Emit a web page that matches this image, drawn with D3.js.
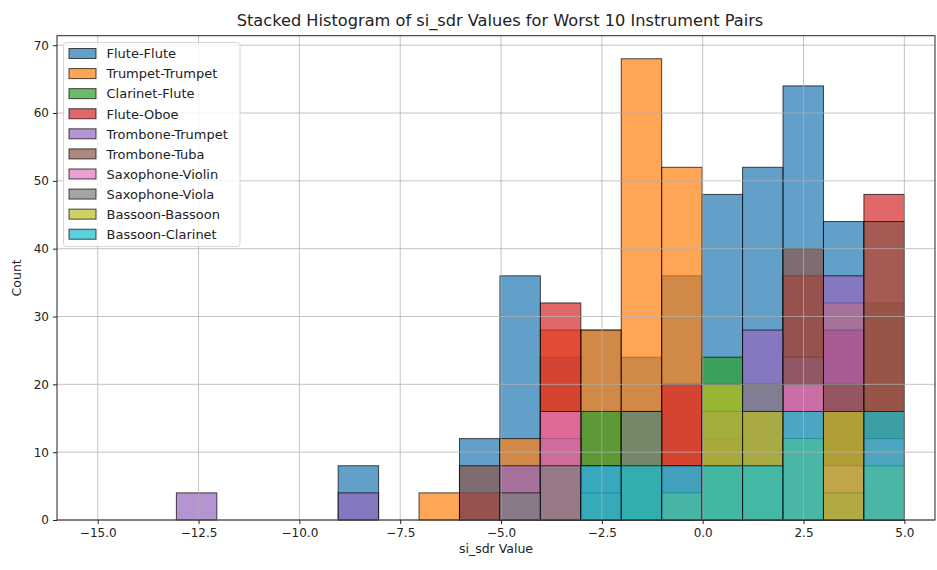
<!DOCTYPE html>
<html>
<head>
<meta charset="utf-8">
<script src="https://cdn.jsdelivr.net/npm/d3@7/dist/d3.min.js"></script>
<style>
  body { margin: 0; background: #fff; }
  text { font-family: "DejaVu Sans", sans-serif; fill: #222; }
</style>
</head>
<body>
<svg id="chart" width="937" height="570"></svg>
<script>
// Instrument pairs, in drawing order (later pairs are layered on top)
const pairs = [
  "Flute-Flute", "Trumpet-Trumpet", "Clarinet-Flute", "Flute-Oboe",
  "Trombone-Trumpet", "Trombone-Tuba", "Saxophone-Violin",
  "Saxophone-Viola", "Bassoon-Bassoon", "Bassoon-Clarinet"
];
const colors = ["#1f77b4", "#ff7f0e", "#2ca02c", "#d62728", "#9467bd",
                "#8c564b", "#e377c2", "#7f7f7f", "#bcbd22", "#17becf"];

// Shared bin range (18 equal-width bins)
const binLo = -13.05;
const binHi = 5.0;
const binCount = 18;

// Counts per bin for each pair
const fluteFlute      = [0,0,0,0,8,0,0,12,36,24,28,24,36,48,52,64,44,0];
const trumpetTrumpet  = [0,0,0,0,0,0,4,0,12,28,28,68,52,0,0,0,32,0];
const clarinetFlute   = [0,0,0,0,0,0,0,0,0,0,16,16,0,24,0,0,0,32];
const fluteOboe       = [0,0,0,0,0,0,0,4,0,32,0,0,20,0,0,36,28,48];
const tromboneTrumpet = [4,0,0,0,4,0,0,0,8,0,8,0,8,0,28,24,36,0];
const tromboneTuba    = [0,0,0,0,0,0,0,8,0,12,0,0,0,12,0,40,20,44];
const saxViolin       = [0,0,0,0,0,0,0,0,0,16,0,0,0,0,0,20,8,12];
const saxViola        = [0,0,0,0,0,0,0,0,4,8,4,16,0,16,20,0,4,0];
const bassoonBassoon  = [0,0,0,0,0,0,0,0,0,0,0,0,4,20,16,12,16,8];
const bassoonClarinet = [0,0,0,0,0,0,0,0,0,0,8,8,8,8,8,16,0,16];

const seriesCounts = [fluteFlute, trumpetTrumpet, clarinetFlute, fluteOboe,
  tromboneTrumpet, tromboneTuba, saxViolin, saxViola, bassoonBassoon, bassoonClarinet];

const xTicks = [-15, -12.5, -10, -7.5, -5, -2.5, 0, 2.5, 5];
const yTicks = [0, 10, 20, 30, 40, 50, 60, 70];

const svg = d3.select("#chart");
const plot = { left: 57, right: 935, top: 35.7, bottom: 520 };

const x = d3.scaleLinear().domain([-16.01, 5.76]).range([plot.left, plot.right]);
const y = d3.scaleLinear().domain([0, 71.4]).range([plot.bottom, plot.top]);

const binWidth = (binHi - binLo) / binCount;
const edges = d3.range(binCount + 1).map(i => binLo + i * binWidth);

// Layered bars
const barsG = svg.append("g");
seriesCounts.forEach((counts, si) => {
  const data = counts.map((c, i) => ({ c, x0: edges[i], x1: edges[i + 1] }))
                     .filter(d => d.c > 0);
  barsG.append("g")
    .selectAll("rect")
    .data(data)
    .join("rect")
    .attr("x", d => x(d.x0))
    .attr("width", d => x(d.x1) - x(d.x0))
    .attr("y", d => y(d.c))
    .attr("height", d => y(0) - y(d.c))
    .attr("fill", colors[si])
    .attr("fill-opacity", 0.7)
    .attr("stroke", "#000")
    .attr("stroke-opacity", 0.7)
    .attr("stroke-width", 1);
});

// Grid lines drawn over the bars
const gridG = svg.append("g").attr("stroke", "#b0b0b0").attr("stroke-opacity", 0.75).attr("stroke-width", 1);
gridG.selectAll("line.v").data(xTicks).join("line")
  .attr("x1", d => x(d)).attr("x2", d => x(d))
  .attr("y1", plot.top).attr("y2", plot.bottom);
gridG.selectAll("line.h").data(yTicks).join("line")
  .attr("x1", plot.left).attr("x2", plot.right)
  .attr("y1", d => y(d)).attr("y2", d => y(d));

// Axes
const fmt = d => (d < 0 ? "\u2212" : "") + Math.abs(d).toFixed(1);
const xAxis = svg.append("g")
  .attr("transform", `translate(0,${plot.bottom})`)
  .call(d3.axisBottom(x).tickValues(xTicks).tickFormat(fmt).tickSizeOuter(0).tickSize(4).tickPadding(4));
const yAxis = svg.append("g")
  .attr("transform", `translate(${plot.left},0)`)
  .call(d3.axisLeft(y).tickValues(yTicks).tickSizeOuter(0).tickSize(4).tickPadding(4));
[xAxis, yAxis].forEach(g => {
  g.selectAll("path").remove();
  g.selectAll("line").attr("stroke", "#222");
  g.selectAll("text").style("font-size", "12px").attr("fill", "#222");
});

// Frame
svg.append("rect")
  .attr("x", plot.left).attr("y", plot.top)
  .attr("width", plot.right - plot.left).attr("height", plot.bottom - plot.top)
  .attr("fill", "none").attr("stroke", "#222").attr("stroke-width", 1);

// Titles
svg.append("text")
  .attr("x", 500).attr("y", 26)
  .attr("text-anchor", "middle").style("font-size", "16.2px")
  .text("Stacked Histogram of si_sdr Values for Worst 10 Instrument Pairs");
svg.append("text")
  .attr("x", (plot.left + plot.right) / 2).attr("y", 553)
  .attr("text-anchor", "middle").style("font-size", "12.5px")
  .text("si_sdr Value");
svg.append("text")
  .attr("transform", `translate(21,${(plot.top + plot.bottom) / 2}) rotate(-90)`)
  .attr("text-anchor", "middle").style("font-size", "12.5px")
  .text("Count");

// Legend
const legend = svg.append("g").attr("transform", "translate(63.5,42.5)");
legend.append("rect")
  .attr("width", 176.5).attr("height", 204)
  .attr("rx", 3).attr("fill", "#fff").attr("fill-opacity", 0.8)
  .attr("stroke", "#d6d6d6");
pairs.forEach((p, i) => {
  const row = legend.append("g").attr("transform", `translate(0,${11 + i * 20.08})`);
  row.append("rect")
    .attr("x", 5.5).attr("y", -5).attr("width", 27).attr("height", 10)
    .attr("fill", colors[i]).attr("fill-opacity", 0.7)
    .attr("stroke", "#000").attr("stroke-opacity", 0.7);
  row.append("text")
    .attr("x", 43).attr("y", 4.8)
    .style("font-size", "13px")
    .text(p);
});
</script>
</body>
</html>
